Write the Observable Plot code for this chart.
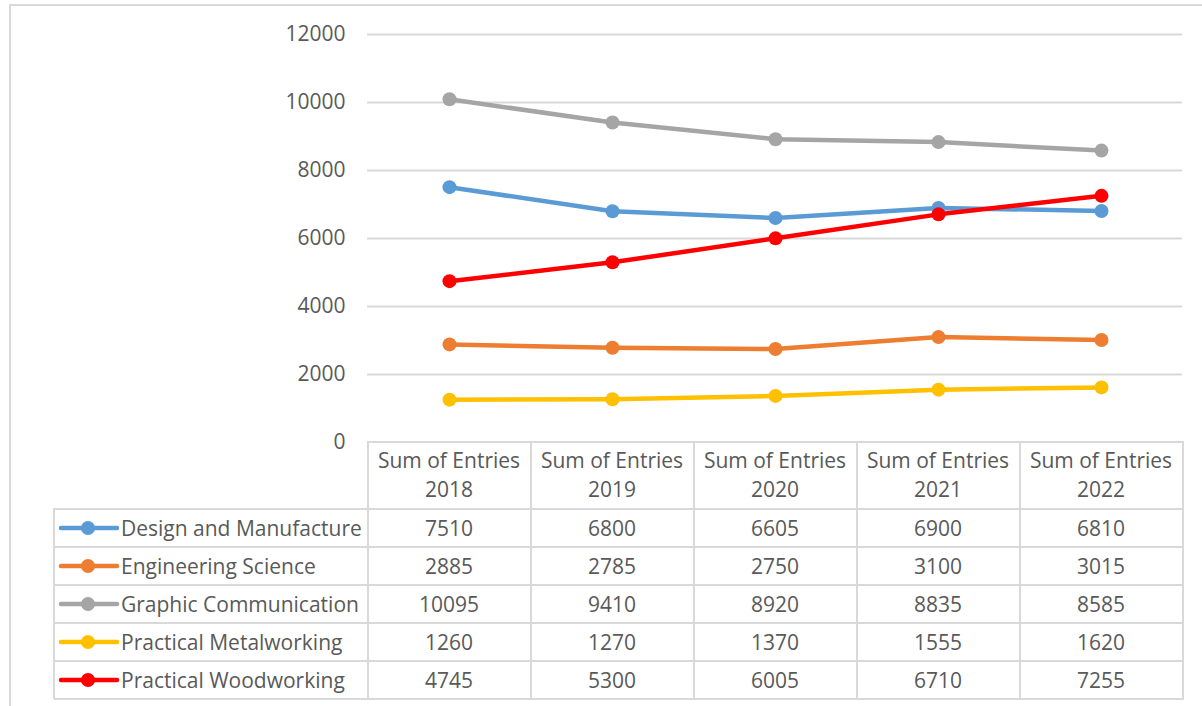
<!DOCTYPE html>
<html><head><meta charset="utf-8">
<script src="https://cdn.jsdelivr.net/npm/d3@7"></script>
<script src="https://cdn.jsdelivr.net/npm/@observablehq/plot@0.6"></script>
<style>
body{margin:0;background:#fff;}
#wrap{position:relative;width:1202px;height:706px;overflow:hidden;font-family:"Open Sans",sans-serif;background:#fff;}
#frame{position:absolute;left:9px;top:4px;width:1300px;height:800px;border-left:2px solid #D9D9D9;border-top:2px solid #D9D9D9;}
#chart{position:absolute;left:0;top:0;}
.hl{position:absolute;height:2px;background:#D9D9D9;}
.vl{position:absolute;width:2px;background:#D9D9D9;}
.cell{position:absolute;height:30px;line-height:30px;color:#595959;font-size:21px;white-space:nowrap;}
</style>
</head><body>
<div id="wrap"><div id="frame"></div><div id="chart"></div><div id="tbl"></div></div>
<script>
const years = ["2018","2019","2020","2021","2022"];
const subjects = ["Design and Manufacture","Engineering Science","Graphic Communication","Practical Metalworking","Practical Woodworking"];
const colors = ["#5B9BD5","#ED7D31","#A5A5A5","#FFC000","#FF0000"];
const designManufacture = [7510,6800,6605,6900,6810];
const engineeringScience = [2885,2785,2750,3100,3015];
const graphicCommunication = [10095,9410,8920,8835,8585];
const practicalMetalworking = [1260,1270,1370,1555,1620];
const practicalWoodworking = [4745,5300,6005,6710,7255];
const yTicks = [0,2000,4000,6000,8000,10000,12000];
const headerLabel = "Sum of Entries";

const seriesValues = [designManufacture, engineeringScience, graphicCommunication, practicalMetalworking, practicalWoodworking];
const data = [];
subjects.forEach((s,i)=>years.forEach((yr,j)=>data.push({subject:s, year:yr, value:seriesValues[i][j]})));

const plot = Plot.plot({
  width:1202, height:706,
  marginLeft:367, marginRight:20, marginTop:34, marginBottom:264,
  style:{fontFamily:"'Open Sans', sans-serif", fontSize:"21px", color:"#595959", background:"transparent"},
  x:{type:"point", domain:years, padding:0.5, axis:null},
  y:{domain:[0,12000], ticks:yTicks},
  color:{domain:subjects, range:colors},
  marks:[
    Plot.ruleY(yTicks.filter(d=>d>0), {stroke:"#D9D9D9", strokeWidth:2}),
    Plot.axisY({ticks:yTicks, tickSize:0, tickPadding:22, label:null, tickFormat:d=>String(d)}),
    Plot.line(data, {x:"year", y:"value", z:"subject", stroke:"subject", strokeWidth:4.5, strokeLinecap:"round", strokeLinejoin:"round"}),
    Plot.dot(data, {x:"year", y:"value", fill:"subject", r:7, stroke:null})
  ]
});
document.getElementById("chart").appendChild(plot);

// Data table built from the plot's x scale
const xs = plot.scale("x");
const centers = years.map(y=>xs.apply(y));
const step = centers[1]-centers[0];
const left0 = centers[0]-step/2;
const right0 = centers[centers.length-1]+step/2;
const top0 = 442, headerH = 67, rowH = 38, legendLeft = 54;
const tbl = d3.select("#tbl");
function hl(x1,x2,y){tbl.append("div").attr("class","hl").style("left",(x1)+"px").style("top",(y-1)+"px").style("width",(x2-x1+1)+"px");}
function vl(x,y1,y2){tbl.append("div").attr("class","vl").style("left",(x-1)+"px").style("top",(y1-1)+"px").style("height",(y2-y1+1)+"px");}
hl(left0, right0, top0);
for(let r=0;r<=subjects.length;r++) hl(legendLeft, right0, top0+headerH+r*rowH);
vl(legendLeft, top0+headerH, top0+headerH+subjects.length*rowH);
for(let c=0;c<=years.length;c++) vl(left0+c*step, top0, top0+headerH+subjects.length*rowH);
years.forEach((yr,j)=>{
  tbl.append("div").attr("class","cell").style("left",(centers[j]-step/2)+"px").style("width",step+"px").style("text-align","center").style("top",(460-15)+"px").text(headerLabel);
  tbl.append("div").attr("class","cell").style("left",(centers[j]-step/2)+"px").style("width",step+"px").style("text-align","center").style("top",(489-15)+"px").text(yr);
});
subjects.forEach((s,i)=>{
  const cy = top0+headerH+i*rowH+rowH/2;
  const svg = tbl.append("svg").style("position","absolute").style("left","58px").style("top",(cy-10)+"px").attr("width",62).attr("height",20);
  svg.append("line").attr("x1",3).attr("x2",59).attr("y1",10).attr("y2",10).attr("stroke",colors[i]).attr("stroke-width",4.5).attr("stroke-linecap","round");
  svg.append("circle").attr("cx",30).attr("cy",10).attr("r",7).attr("fill",colors[i]);
  tbl.append("div").attr("class","cell").style("left","121px").style("top",(cy-15)+"px").text(s);
  years.forEach((yr,j)=>{
    tbl.append("div").attr("class","cell").style("left",(centers[j]-step/2)+"px").style("width",step+"px").style("text-align","center").style("top",(cy-15)+"px").text(String(seriesValues[i][j]));
  });
});
</script>
</body></html>
